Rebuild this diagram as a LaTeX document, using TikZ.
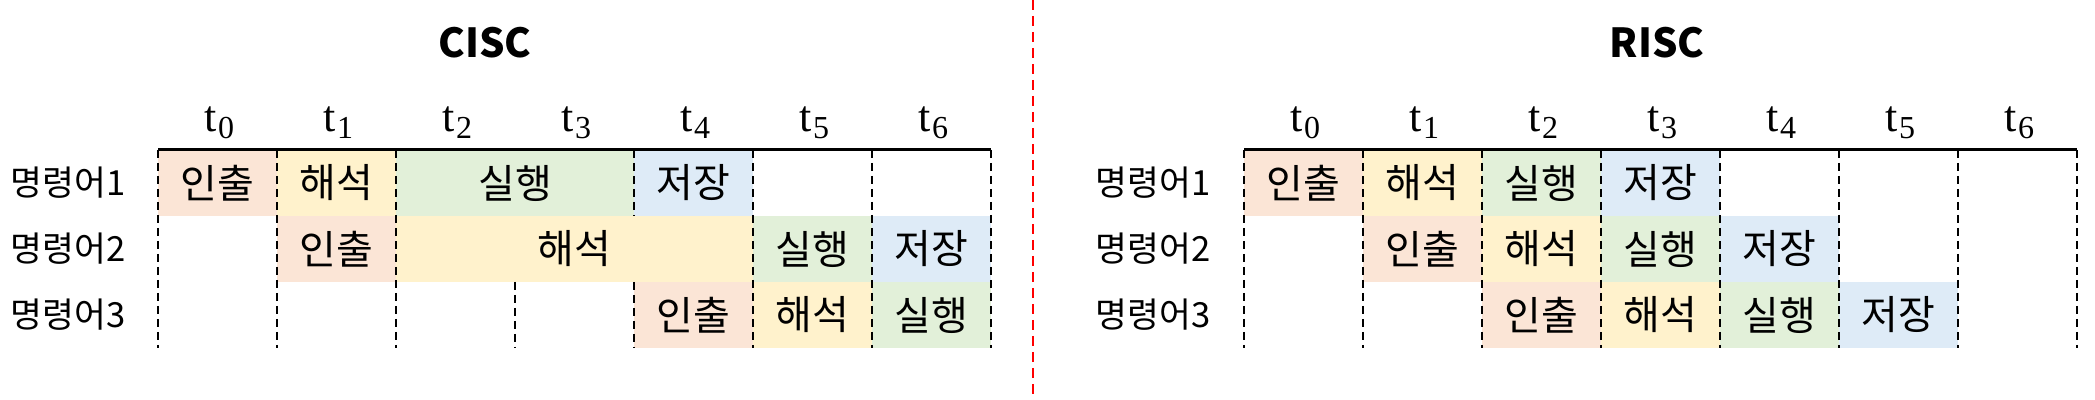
\documentclass[tikz,border=0pt]{standalone}
\usepackage{fontspec}
\setmainfont{Noto Sans CJK KR}
\newfontfamily\tfont{Liberation Serif}
\definecolor{peach}{HTML}{FBE5D6}
\definecolor{yel}{HTML}{FFF2CC}
\definecolor{grn}{HTML}{E2F0D9}
\definecolor{blu}{HTML}{DEEBF7}
\newcommand{\tsub}[1]{{\tfont t\kern0.5pt\raisebox{-3.5pt}{\fontsize{16}{18}\selectfont #1}}}
\begin{document}
\begin{tikzpicture}[x=0.5pt,y=-0.5pt,
  cellbox/.style={inner sep=0pt, minimum height=33pt, minimum width=59.5pt, font=\fontsize{20}{24}\selectfont},
  fetchc/.style={cellbox, fill=peach},
  decodec/.style={cellbox, fill=yel},
  execc/.style={cellbox, fill=grn},
  storec/.style={cellbox, fill=blu},
  rowlabel/.style={inner sep=0pt, font=\fontsize{17.3}{20}\selectfont},
  tlabel/.style={inner sep=0pt, anchor=base, font=\fontsize{22}{24}\selectfont},
  titlec/.style={inner sep=0pt, font=\bfseries\fontsize{20}{24}\selectfont},
  gridv/.style={line width=1pt, dash pattern=on 4pt off 2.5pt},
  axis/.style={line width=1.5pt},
  divider/.style={line width=1pt, red, dash pattern=on 5pt off 3pt}]
\useasboundingbox (0,0) rectangle (2095,400);

% ---------------- CISC ----------------
\node[titlec] (ctitle) at (485,43) {CISC};
\foreach \i in {0,...,6} {
  \node[tlabel] (ct\i) at ({219.5+119*\i},132) {\tsub{\i}};
}
\node[rowlabel] (cr1) at (68,183) {명령어1};
\node[rowlabel] (cr2) at (68,249) {명령어2};
\node[rowlabel] (cr3) at (68,315) {명령어3};

% row 1
\node[fetchc] (c11) at (217.5,183) {인출};
\node[decodec] (c12) at (336.5,183) {해석};
\node[execc, minimum width=119pt] (c13) at (515,183) {실행};
\node[storec] (c14) at (693.5,183) {저장};
% row 2
\node[fetchc] (c21) at (336.5,249) {인출};
\node[decodec, minimum width=178.5pt] (c22) at (574.5,249) {해석};
\node[execc] (c23) at (812.5,249) {실행};
\node[storec] (c24) at (931.5,249) {저장};
% row 3
\node[fetchc] (c31) at (693.5,315) {인출};
\node[decodec] (c32) at (812.5,315) {해석};
\node[execc] (c33) at (931.5,315) {실행};

% grid
\foreach \x in {158,277,396,753,872,991} {
  \draw[gridv] (\x,150) -- (\x,348);
}
\draw[gridv] (515,282) -- (515,348);
\draw[gridv] (634,150) -- (634,216);
\draw[gridv] (634,282) -- (634,348);
\draw[axis] (158,150) -- (991,150);

% ---------------- divider ----------------
\coordinate (dtop) at (1033,0);
\coordinate (dbot) at (1033,400);
\draw[divider] (dtop) -- (dbot);

% ---------------- RISC ----------------
\node[titlec] (rtitle) at (1657,43) {RISC};
\foreach \i in {0,...,6} {
  \node[tlabel] (rt\i) at ({1305.5+119*\i},132) {\tsub{\i}};
}
\node[rowlabel] (rr1) at (1153,183) {명령어1};
\node[rowlabel] (rr2) at (1153,249) {명령어2};
\node[rowlabel] (rr3) at (1153,315) {명령어3};

% row 1
\node[fetchc] (r11) at (1303.5,183) {인출};
\node[decodec] (r12) at (1422.5,183) {해석};
\node[execc] (r13) at (1541.5,183) {실행};
\node[storec] (r14) at (1660.5,183) {저장};
% row 2
\node[fetchc] (r21) at (1422.5,249) {인출};
\node[decodec] (r22) at (1541.5,249) {해석};
\node[execc] (r23) at (1660.5,249) {실행};
\node[storec] (r24) at (1779.5,249) {저장};
% row 3
\node[fetchc] (r31) at (1541.5,315) {인출};
\node[decodec] (r32) at (1660.5,315) {해석};
\node[execc] (r33) at (1779.5,315) {실행};
\node[storec] (r34) at (1898.5,315) {저장};

\foreach \i in {0,...,7} {
  \draw[gridv] ({1244+119*\i},150) -- ({1244+119*\i},348);
}
\draw[axis] (1244,150) -- (2077,150);
\end{tikzpicture}
\end{document}
